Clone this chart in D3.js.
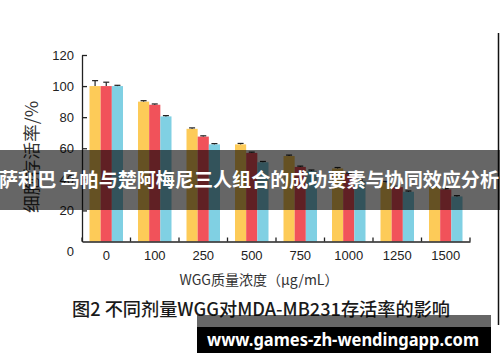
<!DOCTYPE html>
<html>
<head>
<meta charset="utf-8">
<script src="https://cdn.jsdelivr.net/npm/d3@7"></script>
<style>
  body { margin: 0; background: #fff; }
  svg { display: block; }
</style>
</head>
<body>
<div id="chart"></div>
<script>
// data
const doses = ['0', '100', '250', '500', '750', '1000', '1250', '1500'];
const seriesNames = ['a', 'b', 'c'];
const yellowVals = [100, 90, 72.5, 62.5, 55, 47, 38, 35];
const redVals = [100, 88, 67.5, 57, 48, 43.5, 35, 33.5];
const blueVals = [100, 80.5, 62.5, 51, 45.5, 39, 32, 29];
const yellowErr = [3.5, 0.6, 0.6, 0.6, 0.6, 0.6, 0.6, 0.6];
const redErr = [2.5, 0.5, 0.5, 0.5, 0.5, 0.5, 0.5, 0.5];
const blueErr = [0.5, 0.5, 0.5, 0.5, 0.5, 0.5, 0.5, 0.5];
const yTicks = [0, 20, 40, 60, 80, 100, 120];
const colors = ['#fdcb58', '#f1525a', '#80d0e3'];

const width = 500, height = 362;
const margin = { left: 82, right: 30, top: 55, bottom: 120.5 };

const svg = d3.select('#chart').append('svg')
  .attr('width', width)
  .attr('height', height);

const x = d3.scaleBand()
  .domain(doses)
  .range([margin.left, width - margin.right])
  .padding(0);
const x1 = d3.scaleBand()
  .domain(seriesNames)
  .range([7.5, 41]);
const y = d3.scaleLinear()
  .domain([0, 120])
  .range([height - margin.bottom, margin.top]);

const rows = doses.map((d, i) => ({
  dose: d,
  vals: [
    { s: 'a', v: yellowVals[i], e: yellowErr[i], c: colors[0] },
    { s: 'b', v: redVals[i], e: redErr[i], c: colors[1] },
    { s: 'c', v: blueVals[i], e: blueErr[i], c: colors[2] }
  ]
}));

const groups = svg.append('g')
  .selectAll('g')
  .data(rows)
  .join('g')
  .attr('transform', d => `translate(${x(d.dose)},0)`);

groups.selectAll('rect')
  .data(d => d.vals)
  .join('rect')
  .attr('x', d => x1(d.s))
  .attr('width', x1.bandwidth())
  .attr('y', d => y(d.v))
  .attr('height', d => y(0) - y(d.v))
  .attr('fill', d => d.c);

// error bars
const err = groups.selectAll('g.err')
  .data(d => d.vals)
  .join('g')
  .attr('class', 'err')
  .attr('stroke', '#222')
  .attr('stroke-width', 1.2);
err.append('line')
  .attr('x1', d => x1(d.s) + x1.bandwidth() / 2)
  .attr('x2', d => x1(d.s) + x1.bandwidth() / 2)
  .attr('y1', d => y(d.v))
  .attr('y2', d => y(d.v + d.e));
err.append('line')
  .attr('x1', d => x1(d.s) + x1.bandwidth() / 2 - 3)
  .attr('x2', d => x1(d.s) + x1.bandwidth() / 2 + 3)
  .attr('y1', d => y(d.v + d.e))
  .attr('y2', d => y(d.v + d.e));

// y axis
const yAxis = svg.append('g')
  .attr('transform', `translate(${margin.left},0)`)
  .call(d3.axisLeft(y).tickValues(yTicks).tickSize(-5).tickSizeOuter(0).tickPadding(8));
yAxis.select('.domain').attr('stroke', '#222').attr('stroke-width', 1.3);
yAxis.selectAll('.tick line').attr('stroke', '#222').attr('stroke-width', 1.3);
yAxis.selectAll('.tick text')
  .attr('font-family', 'Liberation Sans, Arial, sans-serif')
  .attr('font-size', 13)
  .attr('fill', '#222')
  .attr('dy', d => d === 0 ? '1.1em' : '0.32em');
yAxis.selectAll('.tick').filter(d => d === 0).select('line').remove();

// x axis
const xAxis = svg.append('g')
  .attr('transform', `translate(0,${y(0)})`)
  .call(d3.axisBottom(x).tickSize(0).tickSizeOuter(0).tickPadding(9));
xAxis.select('.domain').attr('stroke', '#222').attr('stroke-width', 1.3);
xAxis.selectAll('.tick text')
  .attr('font-family', 'Liberation Sans, Arial, sans-serif')
  .attr('font-size', 13)
  .attr('fill', '#222');
xAxis.selectAll('line.sep')
  .data(doses.concat(['end']))
  .join('line')
  .attr('class', 'sep')
  .attr('x1', d => d === 'end' ? x.range()[1] : x(d))
  .attr('x2', d => d === 'end' ? x.range()[1] : x(d))
  .attr('y1', 0)
  .attr('y2', -4)
  .attr('stroke', '#222')
  .attr('stroke-width', 1.3);

// axis titles
svg.append('text')
  .attr('transform', 'translate(32,157) rotate(-90)')
  .attr('text-anchor', 'middle')
  .attr('dy', '0.35em')
  .attr('textLength', 112)
  .attr('lengthAdjust', 'spacingAndGlyphs')
  .attr('font-family', 'Noto Sans CJK SC, sans-serif')
  .attr('font-size', 17)
  .attr('fill', '#333')
  .text('细胞存活率/%');

svg.append('text')
  .attr('x', 259)
  .attr('y', 285)
  .attr('text-anchor', 'middle')
  .attr('font-family', 'Noto Sans CJK SC, sans-serif')
  .attr('font-size', 14)
  .attr('fill', '#333')
  .text('WGG质量浓度（μg/mL）');

svg.append('text')
  .attr('x', 72)
  .attr('y', 316)
  .attr('textLength', 378)
  .attr('lengthAdjust', 'spacingAndGlyphs')
  .attr('font-family', 'Noto Sans CJK SC, sans-serif')
  .attr('font-weight', 500)
  .attr('font-size', 18)
  .attr('fill', '#1a1a1a')
  .text('图2  不同剂量WGG对MDA-MB231存活率的影响');

// right edge line
svg.append('line')
  .attr('x1', 498.5).attr('x2', 498.5)
  .attr('y1', 33).attr('y2', 325)
  .attr('stroke', '#111')
  .attr('stroke-width', 1.5);

// headline overlay band
svg.append('rect')
  .attr('x', 0).attr('y', 150)
  .attr('width', width).attr('height', 60)
  .attr('fill', 'rgba(0,0,0,0.6)');
svg.append('text')
  .attr('x', 249)
  .attr('y', 187)
  .attr('text-anchor', 'middle')
  .attr('textLength', 500)
  .attr('lengthAdjust', 'spacingAndGlyphs')
  .attr('font-family', 'Noto Sans CJK SC, sans-serif')
  .attr('font-weight', 'bold')
  .attr('font-size', 19.5)
  .attr('fill', '#fff')
  .text('萨利巴 乌帕与楚阿梅尼三人组合的成功要素与协同效应分析');

// watermark box
svg.append('rect')
  .attr('x', 197).attr('y', 315)
  .attr('width', 294).attr('height', 38)
  .attr('fill', 'rgba(0,0,0,0.6)');
svg.append('rect')
  .attr('x', 197).attr('y', 327)
  .attr('width', 294).attr('height', 26)
  .attr('fill', '#000');
svg.append('text')
  .attr('x', 207)
  .attr('y', 346)
  .attr('textLength', 272)
  .attr('lengthAdjust', 'spacingAndGlyphs')
  .attr('font-family', 'Noto Sans, DejaVu Sans, sans-serif')
  .attr('font-weight', 'bold')
  .attr('font-size', 17)
  .attr('fill', '#fff')
  .text('www.games-zh-wendingapp.com');
</script>
</body>
</html>
